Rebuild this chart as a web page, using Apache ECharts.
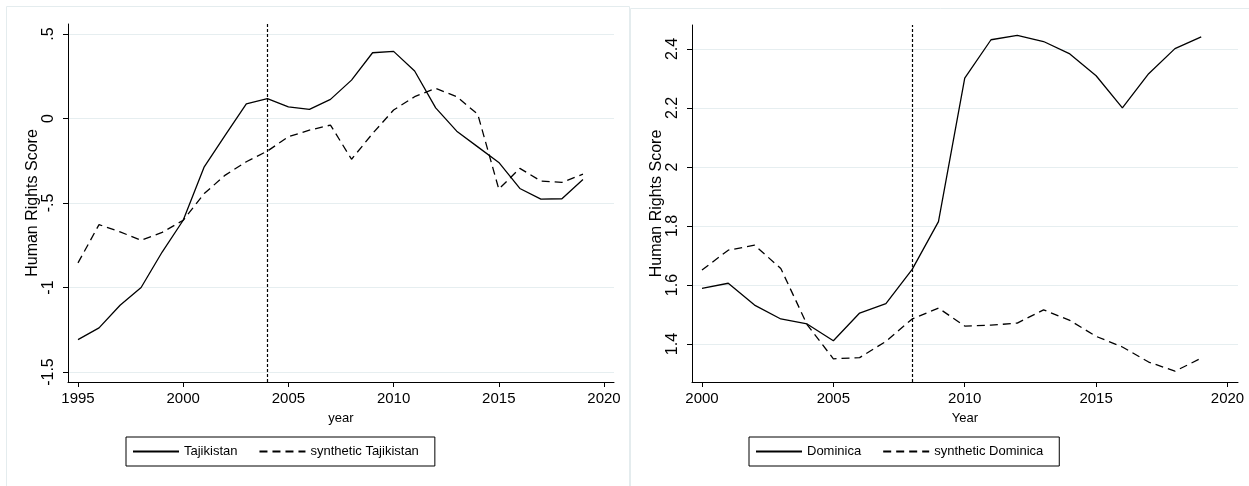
<!DOCTYPE html>
<html>
<head>
<meta charset="utf-8">
<title>Human Rights Score: Tajikistan and Dominica</title>
<script src="https://cdn.jsdelivr.net/npm/echarts@6/dist/echarts.min.js"></script>
<style>
  html, body { margin: 0; padding: 0; background: #fff; }
  #chart { width: 1249px; height: 486px; }
</style>
</head>
<body>
<div id="chart"></div>
<script>
// Tajikistan panel
const yearsTJ = [1995, 1996, 1997, 1998, 1999, 2000, 2001, 2002, 2003, 2004, 2005, 2006, 2007,
                 2008, 2009, 2010, 2011, 2012, 2013, 2014, 2015, 2016, 2017, 2018, 2019];
const tajikistan = [-1.308, -1.239, -1.105, -1.0, -0.79, -0.602, -0.286, -0.098, 0.087, 0.117,
                    0.069, 0.054, 0.113, 0.227, 0.389, 0.397, 0.281, 0.063, -0.075, -0.168,
                    -0.26, -0.414, -0.477, -0.475, -0.361];
const synthTajikistan = [-0.854, -0.628, -0.671, -0.72, -0.674, -0.602, -0.444, -0.335, -0.256, -0.193,
                         -0.108, -0.069, -0.039, -0.241, -0.089, 0.05, 0.129, 0.178, 0.129, 0.025,
                         -0.418, -0.295, -0.37, -0.378, -0.329];
const tjTreatYear = 2004;
const tjYTicks = [-1.5, -1, -0.5, 0, 0.5];
const tjXTicks = [1995, 2000, 2005, 2010, 2015, 2020];

// Dominica panel
const yearsDM = [2000, 2001, 2002, 2003, 2004, 2005, 2006, 2007, 2008, 2009,
                 2010, 2011, 2012, 2013, 2014, 2015, 2016, 2017, 2018, 2019];
const dominica = [1.589, 1.606, 1.532, 1.485, 1.468, 1.411, 1.505, 1.537, 1.653, 1.815,
                  2.301, 2.431, 2.446, 2.425, 2.383, 2.309, 2.2, 2.316, 2.401, 2.441];
const synthDominica = [1.651, 1.718, 1.735, 1.656, 1.466, 1.35, 1.354, 1.409, 1.485, 1.522,
                       1.461, 1.464, 1.471, 1.516, 1.48, 1.426, 1.39, 1.339, 1.308, 1.352];
const dmTreatYear = 2008;
const dmYTicks = [1.4, 1.6, 1.8, 2, 2.2, 2.4];
const dmXTicks = [2000, 2005, 2010, 2015, 2020];

const FONT = '"Liberation Sans", Arial, Helvetica, sans-serif';
const INK = '#000';
const GRID_LINE = '#e6eef0';

function pairs(xs, ys) { return xs.map((x, i) => [x, ys[i]]); }
// Stata-style numbers: drop the leading zero (".5", "-.5")
function stataNum(v) { return String(v).replace(/^(-?)0\./, '$1.'); }

function xAxisOf(gridIndex, ticks, min, max, name) {
  return {
    type: 'value', gridIndex, min, max,
    name, nameLocation: 'middle', nameGap: 30,
    nameTextStyle: { color: INK, fontSize: 13, fontFamily: FONT },
    axisLine: { show: true, onZero: false, lineStyle: { color: INK, width: 1 } },
    axisTick: { show: true, length: 5, lineStyle: { color: INK, width: 1 }, customValues: ticks },
    axisLabel: { color: INK, fontSize: 15, fontFamily: FONT, margin: 9, customValues: ticks,
                 formatter: v => String(v) },
    splitLine: { show: false }
  };
}

function yAxisOf(gridIndex, ticks, min, max) {
  return {
    type: 'value', gridIndex, min, max,
    name: 'Human Rights Score', nameLocation: 'middle', nameGap: 27,
    nameTextStyle: { color: INK, fontSize: 16, fontFamily: FONT },
    axisLine: { show: true, onZero: false, lineStyle: { color: INK, width: 1 } },
    axisTick: { show: true, length: 5, lineStyle: { color: INK, width: 1 }, customValues: ticks },
    axisLabel: { color: INK, fontSize: 16, fontFamily: FONT, rotate: 90, margin: 11,
                 customValues: ticks, formatter: v => stataNum(v) },
    splitLine: { show: true, lineStyle: { color: GRID_LINE, width: 1.2 } }
  };
}

function lineSeries(name, idx, data, dashed, treatYear) {
  const s = {
    name, type: 'line', xAxisIndex: idx, yAxisIndex: idx,
    data, showSymbol: false, symbol: 'none', smooth: false, silent: true,
    lineStyle: { color: INK, width: 1.3, type: dashed ? [8, 5] : 'solid' },
    itemStyle: { color: INK },
    emphasis: { disabled: true }
  };
  if (treatYear !== undefined) {
    s.markLine = {
      silent: true, symbol: ['none', 'none'], animation: false,
      label: { show: false },
      lineStyle: { color: INK, width: 1.2, type: [3, 2] },
      emphasis: { disabled: true },
      data: [{ xAxis: treatYear }]
    };
  }
  return s;
}

function legendOf(left, names) {
  return {
    data: names, left, top: 437,
    orient: 'horizontal',
    itemWidth: 46, itemHeight: 14, itemGap: 21,
    padding: [8, 16, 8, 6],
    borderColor: INK, borderWidth: 1, borderRadius: 0,
    backgroundColor: '#fff',
    selectedMode: false,
    // line key only, no marker dot
    itemStyle: { opacity: 0 },
    textStyle: { color: INK, fontSize: 13, fontFamily: FONT }
  };
}

const chart = echarts.init(document.getElementById('chart'), null, { renderer: 'canvas' });
chart.setOption({
  animation: false,
  backgroundColor: '#fff',
  textStyle: { fontFamily: FONT },
  graphic: [
    { type: 'rect', silent: true, z: -10,
      shape: { x: 6.5, y: 6.5, width: 623, height: 500 },
      style: { fill: '#fff', stroke: '#e4ecee', lineWidth: 1 } },
    { type: 'rect', silent: true, z: -10,
      shape: { x: 630.5, y: 8.5, width: 640, height: 500 },
      style: { fill: '#fff', stroke: '#e4ecee', lineWidth: 1 } }
  ],
  grid: [
    { left: 68, top: 24, width: 546, height: 358, containLabel: false },
    { left: 692, top: 25, width: 546, height: 357, containLabel: false }
  ],
  xAxis: [
    xAxisOf(0, tjXTicks, 1994.525, 2020.475, 'year'),
    xAxisOf(1, dmXTicks, 1999.62, 2020.4, 'Year')
  ],
  yAxis: [
    yAxisOf(0, tjYTicks, -1.559, 0.559),
    yAxisOf(1, dmYTicks, 1.2714, 2.481)
  ],
  legend: [
    legendOf(126, ['Tajikistan', 'synthetic Tajikistan']),
    legendOf(749, ['Dominica', 'synthetic Dominica'])
  ],
  series: [
    lineSeries('Tajikistan', 0, pairs(yearsTJ, tajikistan), false, tjTreatYear),
    lineSeries('synthetic Tajikistan', 0, pairs(yearsTJ, synthTajikistan), true),
    lineSeries('Dominica', 1, pairs(yearsDM, dominica), false, dmTreatYear),
    lineSeries('synthetic Dominica', 1, pairs(yearsDM, synthDominica), true)
  ]
});
</script>
</body>
</html>
